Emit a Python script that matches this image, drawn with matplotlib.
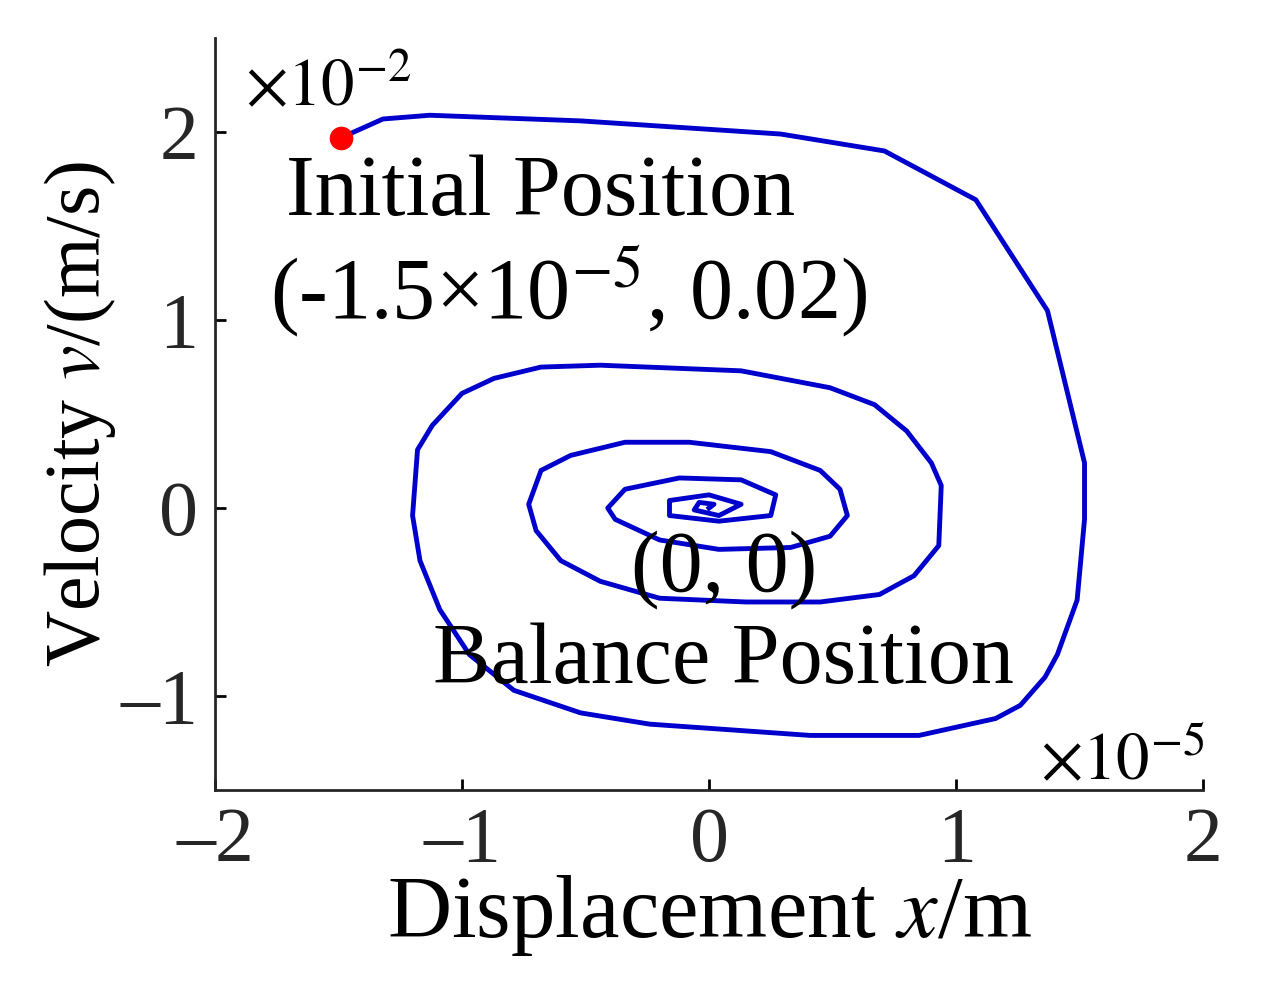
import matplotlib.pyplot as plt

plt.rcParams['font.family'] = ['Liberation Serif', 'DejaVu Serif']
plt.rcParams['mathtext.fontset'] = 'stix'

# trajectory in units of 1e-5 m and 1e-2 m/s
disp = [-1.49, -1.32, -1.13, -0.52, 0.29, 0.71, 1.08, 1.37, 1.52, 1.52, 1.49, 1.41, 1.36, 1.26,
        1.16, 0.85, 0.41, -0.24, -0.52, -0.79, -0.97, -1.09, -1.17, -1.20, -1.18, -1.12, -1.00,
        -0.87, -0.68, -0.44, 0.13, 0.49, 0.67, 0.80, 0.90, 0.94, 0.93, 0.83, 0.69, 0.45, 0.15,
        -0.20, -0.44, -0.60, -0.70, -0.73, -0.68, -0.56, -0.34, -0.08, 0.25, 0.45, 0.53, 0.56,
        0.49, 0.33, 0.04, -0.20, -0.38, -0.41, -0.34, -0.12, 0.13, 0.27, 0.25, 0.04, -0.16,
        -0.16, 0.0, 0.13, 0.04, -0.06, -0.04, 0.02, 0.0]
vel = [1.97, 2.07, 2.09, 2.06, 1.99, 1.90, 1.64, 1.05, 0.24, -0.06, -0.49, -0.78, -0.90, -1.05,
       -1.12, -1.21, -1.21, -1.15, -1.09, -0.97, -0.78, -0.54, -0.28, -0.04, 0.31, 0.44, 0.61,
       0.69, 0.75, 0.76, 0.73, 0.64, 0.55, 0.41, 0.24, 0.12, -0.20, -0.36, -0.46, -0.50, -0.50,
       -0.48, -0.39, -0.28, -0.12, 0.02, 0.20, 0.28, 0.35, 0.35, 0.30, 0.20, 0.10, -0.04,
       -0.15, -0.21, -0.22, -0.17, -0.06, 0.0, 0.10, 0.16, 0.15, 0.07, -0.04, -0.07, -0.04,
       0.04, 0.07, 0.02, -0.04, -0.01, 0.03, 0.02, 0.0]
xticks = [-2, -1, 0, 1, 2]
yticks = [-1, 0, 1, 2]

fig = plt.figure(figsize=(12.84, 10.05), dpi=100)
ax = fig.add_axes([0.1674, 0.214, 0.7696, 0.748])
ax.plot(disp, vel, color='#0000cc', lw=3.5)
ax.plot(disp[0], vel[0], 'o', color='red', ms=16)
ax.set_xlim(-2, 2)
ax.set_ylim(-1.5, 2.5)
ax.set_xticks(xticks)
ax.set_yticks(yticks)
ax.set_xticklabels(['\u2013' + str(-t) if t < 0 else str(t) for t in xticks])
ax.set_yticklabels(['\u2013' + str(-t) if t < 0 else str(t) for t in yticks])
ax.tick_params(labelsize=56, labelcolor='#262626', direction='in', length=8, width=2, pad=12)
for s in ['top', 'right']:
    ax.spines[s].set_visible(False)
for s in ['left', 'bottom']:
    ax.spines[s].set_linewidth(2)
    ax.spines[s].set_color('#262626')

ax.set_xlabel('Displacement $\\mathit{x}$/m', fontsize=64, labelpad=-4)
ax.set_ylabel('Velocity $\\mathit{v}$/(m/s)', fontsize=56, labelpad=2)
ax.text(-1.88, 2.14, '$\\times10^{-2}$', fontsize=48)
ax.text(1.34, -1.44, '$\\times10^{-5}$', fontsize=48)
ax.text(-0.68, 1.56, 'Initial Position', fontsize=62, ha='center')
ax.text(-0.57, 1.01, '(-1.5\u00d710$^{-5}$, 0.02)', fontsize=62, ha='center')
ax.text(0.06, -0.44, '(0, 0)', fontsize=62, ha='center')
ax.text(0.06, -0.93, 'Balance Position', fontsize=62, ha='center')

fig.savefig('out.png', dpi=100)
